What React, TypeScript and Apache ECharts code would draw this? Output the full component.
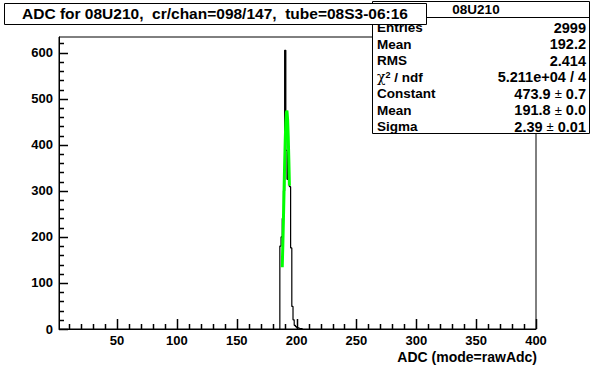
import React, { useEffect, useRef } from 'react';
import * as echarts from 'echarts';

// Histogram bins (low edge, width 1) and counts
const binLow = [186, 187, 188, 189, 190, 191, 192, 193, 194, 195, 196, 197, 198, 199, 200, 201, 202, 203, 204];
const binCounts = [180, 200, 240, 300, 605, 388, 325, 385, 309, 176, 49, 20, 8, 5, 3, 2, 1, 1, 1];

// Gaussian fit curve points
const fitX = [188.0, 188.5, 189.0, 189.5, 190.0, 190.5, 191.0, 191.5, 191.8, 192.0, 192.5, 193.0, 193.5, 194.0];
const fitY = [134, 183, 238, 298, 357, 409, 448, 470, 474, 472, 454, 418, 368, 311];

const xMajorTicks = [50, 100, 150, 200, 250, 300, 350, 400];
const xMinorTicks = [10, 20, 30, 40, 60, 70, 80, 90, 110, 120, 130, 140, 160, 170, 180, 190, 210, 220, 230, 240, 260, 270, 280, 290, 310, 320, 330, 340, 360, 370, 380, 390];
const yMajorTicks = [0, 100, 200, 300, 400, 500, 600];
const yMinorTicks = [20, 40, 60, 80, 120, 140, 160, 180, 220, 240, 260, 280, 320, 340, 360, 380, 420, 440, 460, 480, 520, 540, 560, 580, 620];

const titleText = 'ADC for 08U210,  cr/chan=098/147,  tube=08S3-06:16';
const statsName = '08U210';
const statLabels = ['Entries', 'Mean', 'RMS', '{chi|χ}{sup|2}{b| / ndf}', 'Constant', 'Mean', 'Sigma'];
const statValues = ['2999', '192.2', '2.414', '5.211e+04 / 4', '473.9 {pm|±} 0.7', '191.8 {pm|±} 0.0', '2.39 {pm|±} 0.01'];
const xAxisTitle = 'ADC (mode=rawAdc)';

const FONT = '"Liberation Sans", Arial, Helvetica, sans-serif';

export default function App() {
  const ref = useRef<HTMLDivElement>(null);
  useEffect(() => {
    const chart = echarts.init(ref.current!, undefined, { renderer: 'svg' });

    const histData: number[][] = [[binLow[0], 0]];
    binLow.forEach((b, i) => histData.push([b, binCounts[i]]));
    histData.push([binLow[binLow.length - 1] + 1, 0]);
    const fitData = fitX.map((x, i) => [x, fitY[i]]);

    const gl = 59, gt = 37, gw = 477, gh = 292;
    const xMin = 1.5, xMax = 400, yMin = 0, yMax = 634;

    const rowY0 = 27.5, rowStep = 16.5;
    const rich = {
      pm: { fontWeight: 'normal' as const, fontSize: 13, fontFamily: FONT, fill: '#000' },
      chi: { fontWeight: 'normal' as const, fontSize: 14, fontFamily: 'DejaVu Serif, serif', fill: '#000' },
      sup: { fontWeight: 'bold' as const, fontSize: 9, fontFamily: FONT, fill: '#000', verticalAlign: 'top' as const },
      b: { fontWeight: 'bold' as const, fontSize: 13.5, fontFamily: FONT, fill: '#000' },
    };

    const statElems: any[] = [];
    statLabels.forEach((lab, i) => {
      statElems.push({
        type: 'text', z: 10,
        style: { x: 377, y: rowY0 + i * rowStep, text: lab, textAlign: 'left', textVerticalAlign: 'middle', fontSize: 13.5, fontWeight: 'bold', fontFamily: FONT, fill: '#000', rich },
      });
      statElems.push({
        type: 'text', z: 10,
        style: { x: 586, y: rowY0 + i * rowStep, text: statValues[i], textAlign: 'right', textVerticalAlign: 'middle', fontSize: 14.5, fontWeight: 'bold', fontFamily: FONT, fill: '#000', rich },
      });
    });

    const tickLabel = { fontSize: 13, fontWeight: 'bold' as const, fontFamily: FONT, color: '#000' };

    const TW = 1.5;
    const xTickSeries = (ticks: number[], len: number) => ({
      type: 'custom', xAxisIndex: 0, yAxisIndex: 0, silent: true, clip: false, z: 5,
      data: ticks.map((v) => [v, yMin]),
      renderItem: (_p: any, api: any) => {
        const pt = api.coord([api.value(0), yMin]);
        const x = Math.round(pt[0]) + 0.5;
        return { type: 'line', shape: { x1: x, y1: pt[1], x2: x, y2: pt[1] - len }, style: { stroke: '#000', lineWidth: TW } };
      },
    });
    const yTickSeries = (ticks: number[], len: number) => ({
      type: 'custom', xAxisIndex: 0, yAxisIndex: 0, silent: true, clip: false, z: 5,
      data: ticks.map((v) => [xMin, v]),
      renderItem: (_p: any, api: any) => {
        const pt = api.coord([xMin, api.value(1)]);
        const y = Math.round(pt[1]) + 0.5;
        return { type: 'line', shape: { x1: pt[0], y1: y, x2: pt[0] + len, y2: y }, style: { stroke: '#000', lineWidth: TW } };
      },
    });

    chart.setOption({
      animation: false,
      backgroundColor: '#fff',
      grid: { left: gl, top: gt, width: gw, height: gh, show: true, borderColor: '#000', borderWidth: 1, backgroundColor: 'transparent' },
      xAxis: {
        type: 'value', min: xMin, max: xMax, position: 'bottom',
        axisLine: { show: true, lineStyle: { color: '#000', width: 1 } },
        axisTick: { show: false },
        axisLabel: { show: true, customValues: xMajorTicks, margin: 5, ...tickLabel },
        splitLine: { show: false },
      },
      yAxis: {
        type: 'value', min: yMin, max: yMax, position: 'left',
        axisLine: { show: true, lineStyle: { color: '#000', width: 1 } },
        axisTick: { show: false },
        axisLabel: { show: true, customValues: yMajorTicks, margin: 6, ...tickLabel },
        splitLine: { show: false },
      },
      series: [
        xTickSeries(xMajorTicks, 10),
        xTickSeries(xMinorTicks, 5),
        yTickSeries(yMajorTicks, 9),
        yTickSeries(yMinorTicks, 5),
        {
          type: 'line', data: histData, step: 'end', symbol: 'none',
          lineStyle: { color: '#000', width: 1.2 }, z: 3,
        },
        {
          type: 'line', data: fitData, symbol: 'none', smooth: false,
          lineStyle: { color: '#00ff00', width: 3 }, z: 4,
        },
      ],
      graphic: [
        // stats box
        { type: 'rect', z: 9, shape: { x: 372.5, y: 1.5, width: 217, height: 132 }, style: { fill: '#fff', stroke: '#000', lineWidth: 1 } },
        { type: 'line', z: 10, shape: { x1: 372.5, y1: 17.5, x2: 589.5, y2: 17.5 }, style: { stroke: '#000', lineWidth: 1 } },
        { type: 'text', z: 10, style: { x: 476, y: 9.5, text: statsName, textAlign: 'center', textVerticalAlign: 'middle', fontSize: 13.5, fontWeight: 'bold', fontFamily: FONT, fill: '#000' } },
        ...statElems,
        // title box
        { type: 'rect', z: 20, shape: { x: 4.5, y: 3.5, width: 422, height: 21 }, style: { fill: '#fff', stroke: '#000', lineWidth: 1 } },
        { type: 'text', z: 21, style: { x: 215, y: 13, text: titleText, textAlign: 'center', textVerticalAlign: 'middle', fontSize: 15.5, fontWeight: 'bold', fontFamily: FONT, fill: '#000' } },
        // x axis title
        { type: 'text', z: 10, style: { x: 537, y: 357, text: xAxisTitle, textAlign: 'right', textVerticalAlign: 'middle', fontSize: 14, fontWeight: 'bold', fontFamily: FONT, fill: '#000' } },
      ],
    });
    return () => chart.dispose();
  }, []);
  return <div ref={ref} style={{ position: 'fixed', left: 0, top: 0, width: 596, height: 368, background: '#fff' }} />;
}
